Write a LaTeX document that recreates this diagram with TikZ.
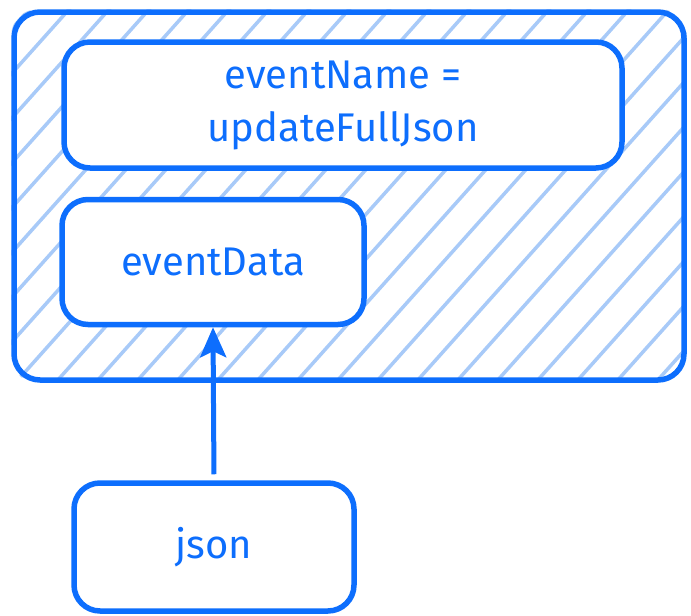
\documentclass[tikz,border=0pt]{standalone}
\usepackage{fontspec}
\setmainfont{Fira Sans}
\usetikzlibrary{backgrounds,arrows.meta}

\definecolor{sketchblue}{HTML}{0D6EFD}
\definecolor{hatchblue}{HTML}{A8CAF8}

\begin{document}
\begin{tikzpicture}[
    >={Stealth[length=30pt,width=26pt,inset=6pt]},
    x=1pt,
    y=-1pt,
    box/.style={draw=sketchblue, line width=5.5pt, rounded corners=26pt, fill=white,
        text=sketchblue, align=center, font=\fontsize{40}{53}\selectfont},
    hatch/.style={hatchblue, line width=3.5pt}
]
\useasboundingbox (0,0) rectangle (691,616);

% 外框
\node[box, fill=none, minimum width=670pt, minimum height=368pt] (frame) at (349,196) {};

% 斜线填充
\begin{scope}[on background layer]
    \clip[rounded corners=26pt] (frame.south west) rectangle (frame.north east);
    \foreach \i in {-440,-400,...,720}
        \draw[hatch] (\i,400) -- ++(420,-470);
\end{scope}

% 内部方框
\node[box, minimum width=558pt, minimum height=126pt] (namebox) at (343,105)
    {eventName =\\updateFullJson};
\node[box, minimum width=302pt, minimum height=125pt] (databox) at (213,262) {eventData};

% 输入
\node[box, minimum width=280pt, minimum height=128pt] (jsonbox) at (214,547) {json};

% 箭头
\draw[->, sketchblue, line width=5pt, shorten <=6pt] (jsonbox.north) -- (databox.south);

\end{tikzpicture}
\end{document}
